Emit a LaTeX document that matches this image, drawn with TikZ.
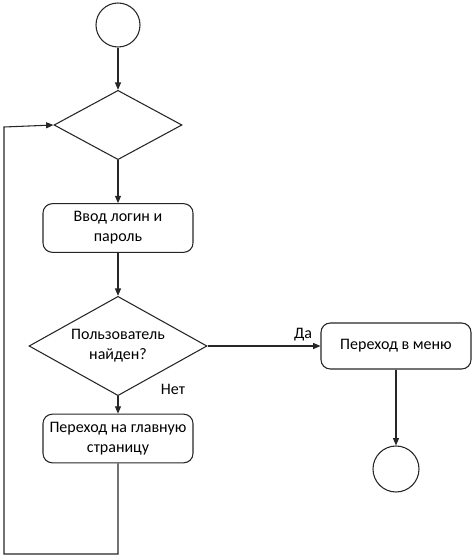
\documentclass[tikz,border=0pt]{standalone}
\usepackage{fontspec}
\setmainfont{Carlito}
\usetikzlibrary{shapes.geometric,arrows.meta}
\begin{document}
\begin{tikzpicture}[x=0.75pt,y=-0.75pt,
  every node/.style={font=\fontsize{12pt}{15pt}\selectfont},
  line/.style={draw=black!85,line width=0.8pt},
  arr/.style={line,-{Triangle[length=5.5pt,width=4.5pt]}},
  endcircle/.style={line,circle,minimum size=33pt,inner sep=0pt},
  decision/.style={line,diamond,aspect=1,inner sep=0pt},
  process/.style={line,rounded corners=7pt,align=center,inner sep=0pt}]
\useasboundingbox (0,0) rectangle (473,557);
\node[endcircle] (start) at (118,25) {};
\node[decision,minimum width=96pt,minimum height=52pt] (d1) at (118,125) {};
\node[process,minimum width=112.5pt,minimum height=36.5pt] (in) at (118,228) {Ввод логин и\\пароль};
\node[decision,minimum width=133.5pt,minimum height=74.5pt,
  label={[align=center,font=\fontsize{12pt}{15pt}\selectfont]center:Пользователь\\найден?}] (d2) at (118,346) {};
\node[process,minimum width=112.5pt,minimum height=36.5pt] (home) at (118,438.5) {Переход на главную\\страницу};
\node[process,minimum width=112.5pt,minimum height=34.5pt] (menu) at (396,346) {Переход в меню};
\node[endcircle,minimum size=34.5pt] (fin) at (396,469) {};
\node (yes) at (303,335) {Да};
\node (no) at (173,389) {Нет};
\coordinate (b1) at (118,554);
\coordinate (b2) at (4,554);
\coordinate (b3) at (4,127);
\draw[arr] (start) -- (d1);
\draw[arr] (d1) -- (in);
\draw[arr] (in) -- (d2);
\draw[arr] (d2) -- (home);
\draw[arr] (d2.east) -- (menu.west);
\draw[arr] (menu) -- (fin);
\draw[arr] (home.south) -- (b1) -- (b2) -- (b3) -- (d1.west);
\end{tikzpicture}
\end{document}
